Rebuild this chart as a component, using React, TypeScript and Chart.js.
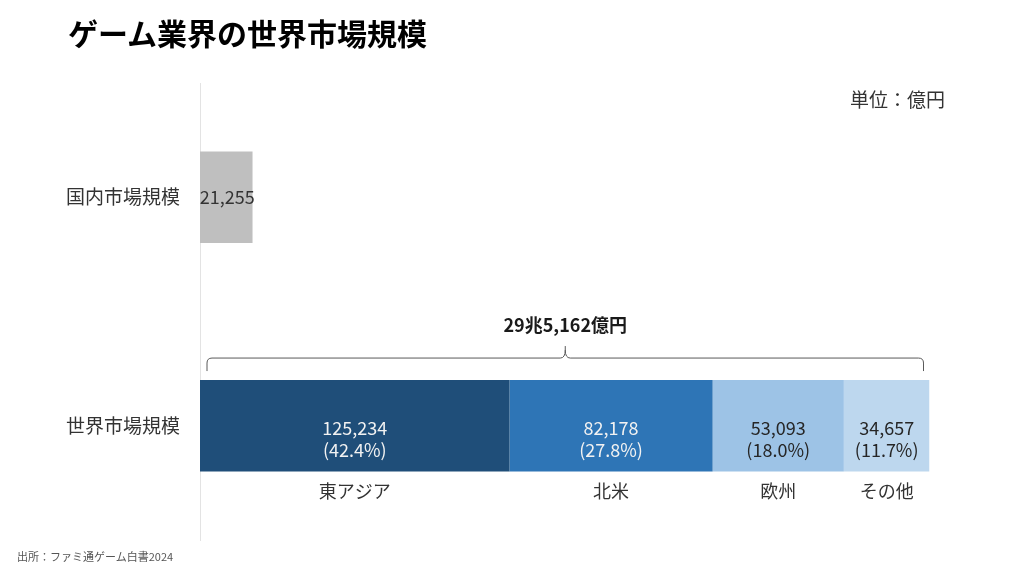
import React, { useEffect, useRef } from "react";
import { Chart, registerables } from "chart.js";

Chart.register(...registerables);

const categories = ["国内市場規模", "世界市場規模"];
const domesticValue = 21255;
const regionNames = ["東アジア", "北米", "欧州", "その他"];
const regionValues = [125234, 82178, 53093, 34657];
const regionShares = ["(42.4%)", "(27.8%)", "(18.0%)", "(11.7%)"];
const regionColors = ["#1f4e79", "#2e75b6", "#9dc3e6", "#bdd7ee"];
const regionTextColors = ["#f2f2f2", "#f2f2f2", "#262626", "#262626"];
const totalLabel = "29兆5,162億円";
const titleText = "ゲーム業界の世界市場規模";
const unitText = "単位：億円";
const sourceText = "出所：ファミ通ゲーム白書2024";

const FONT = "'Noto Sans CJK JP', 'Noto Sans', sans-serif";
const fmt = (v: number) => v.toLocaleString("en-US");

const labelPlugin = {
  id: "labels",
  afterDatasetsDraw(chart: any) {
    const ctx = chart.ctx;
    ctx.save();
    ctx.textAlign = "center";
    ctx.textBaseline = "middle";
    const dEl = chart.getDatasetMeta(0).data[0];
    ctx.font = `18px ${FONT}`;
    ctx.fillStyle = "#333333";
    ctx.fillText(fmt(domesticValue), (dEl.x + dEl.base) / 2 + 1, dEl.y);

    let left = Infinity;
    let right = -Infinity;
    let bottom = 0;
    let top = 0;
    regionValues.forEach((v, i) => {
      const el = chart.getDatasetMeta(i + 1).data[1];
      const cx = (el.x + el.base) / 2;
      left = Math.min(left, el.base, el.x);
      right = Math.max(right, el.base, el.x);
      bottom = el.y + el.height / 2;
      top = el.y - el.height / 2;
      ctx.font = `18px ${FONT}`;
      ctx.fillStyle = regionTextColors[i];
      ctx.fillText(fmt(v), cx, el.y + 2);
      ctx.fillText(regionShares[i], cx, el.y + 24);
      ctx.fillStyle = "#333333";
      ctx.fillText(regionNames[i], cx, bottom + 20);
    });

    const L = left + 7;
    const R = right - 6;
    const M = (L + R) / 2;
    const yEnd = top - 9;
    const yLine = top - 22;
    const yPeak = top - 34;
    ctx.strokeStyle = "#595959";
    ctx.lineWidth = 1;
    ctx.beginPath();
    ctx.moveTo(L, yEnd);
    ctx.lineTo(L, yLine + 5);
    ctx.quadraticCurveTo(L, yLine, L + 5, yLine);
    ctx.lineTo(M - 5, yLine);
    ctx.quadraticCurveTo(M, yLine, M, yPeak + 4);
    ctx.lineTo(M, yPeak);
    ctx.moveTo(M, yPeak + 4);
    ctx.quadraticCurveTo(M, yLine, M + 5, yLine);
    ctx.lineTo(R - 5, yLine);
    ctx.quadraticCurveTo(R, yLine, R, yLine + 5);
    ctx.lineTo(R, yEnd);
    ctx.stroke();

    ctx.font = `bold 18px ${FONT}`;
    ctx.fillStyle = "#1a1a1a";
    ctx.fillText(totalLabel, M, top - 55);
    ctx.restore();
  },
};

export default function App() {
  const ref = useRef<HTMLCanvasElement>(null);
  useEffect(() => {
    if (!ref.current) return;
    const datasets: any[] = [
      {
        label: "国内",
        data: [domesticValue, null],
        backgroundColor: "#bfbfbf",
      },
      ...regionNames.map((n, i) => ({
        label: n,
        data: [null, regionValues[i]],
        backgroundColor: regionColors[i],
      })),
    ];
    const total = regionValues.reduce((a, b) => a + b, 0);
    const chart = new Chart(ref.current, {
      type: "bar",
      data: { labels: categories, datasets },
      options: {
        indexAxis: "y",
        responsive: false,
        animation: false,
        datasets: { bar: { barPercentage: 0.5, categoryPercentage: 0.8 } },
        layout: { padding: { left: 0, right: 94.5, top: 83, bottom: 36 } },
        plugins: {
          legend: { display: false },
          tooltip: { enabled: false },
        },
        scales: {
          x: {
            stacked: true,
            display: false,
            min: 0,
            max: total,
          },
          y: {
            stacked: true,
            grid: { display: false },
            border: { display: true, color: "#e3e3e3", width: 1 },
            ticks: {
              color: "#333333",
              font: { family: FONT, size: 19 },
              padding: 12,
            },
            afterFit(scale: any) {
              scale.width = 200;
            },
          },
        },
      },
      plugins: [labelPlugin],
    });
    return () => chart.destroy();
  }, []);

  return (
    <div
      style={{
        position: "fixed",
        left: 0,
        top: 0,
        width: 1024,
        height: 576,
        background: "#ffffff",
        fontFamily: FONT,
      }}
    >
      <canvas
        ref={ref}
        width={1024}
        height={576}
        style={{ position: "absolute", left: 0, top: 0, display: "block" }}
      />
      <div
        style={{
          position: "absolute",
          left: 68,
          top: 17,
          fontSize: 30,
          lineHeight: "30px",
          fontWeight: "bold",
          color: "#000000",
          whiteSpace: "nowrap",
        }}
      >
        {titleText}
      </div>
      <div
        style={{
          position: "absolute",
          right: 1024 - 945,
          top: 89,
          fontSize: 19,
          lineHeight: "19px",
          color: "#333333",
          whiteSpace: "nowrap",
        }}
      >
        {unitText}
      </div>
      <div
        style={{
          position: "absolute",
          left: 17,
          top: 551,
          fontSize: 11,
          lineHeight: "11px",
          color: "#555555",
          whiteSpace: "nowrap",
        }}
      >
        {sourceText}
      </div>
    </div>
  );
}
